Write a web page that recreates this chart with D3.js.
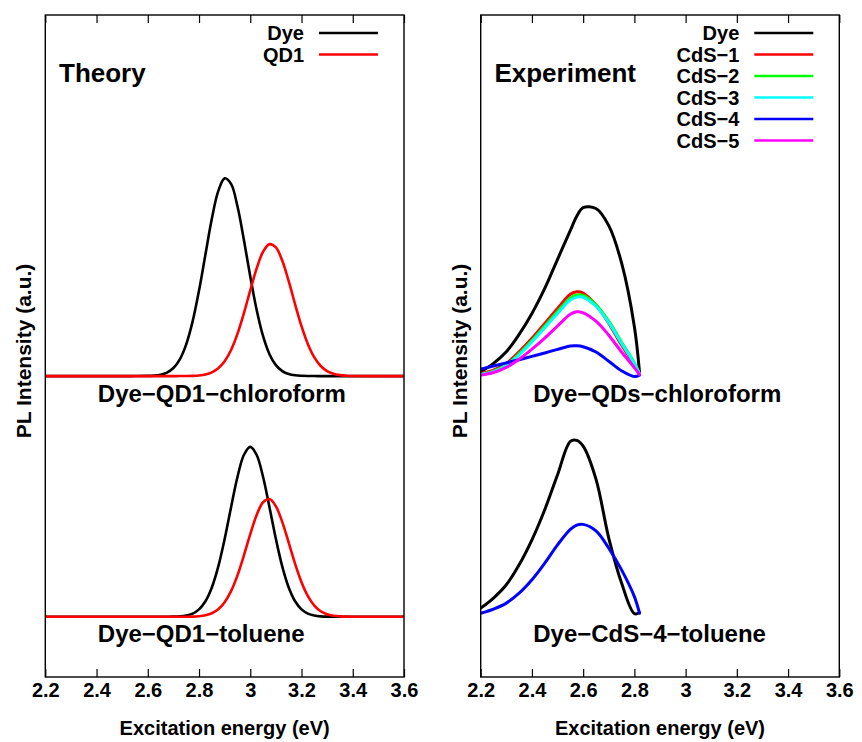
<!DOCTYPE html>
<html>
<head>
<meta charset="utf-8">
<script src="https://cdn.jsdelivr.net/npm/d3@7"></script>
<style>
  body { margin: 0; background: #fff; }
  text { font-family: "Liberation Sans", Arial, Helvetica, sans-serif; font-weight: bold; fill: #000; }
</style>
</head>
<body>
<svg id="chart" width="862" height="742"></svg>
<script>
// ---- data -------------------------------------------------------------
const xTicks = [2.2, 2.4, 2.6, 2.8, 3.0, 3.2, 3.4, 3.6];

// Theory: computed emission profiles (eV, a.u.)
const energyTheory = [2.20, 2.30, 2.40, 2.50, 2.55, 2.60,
  2.625, 2.65, 2.675, 2.70, 2.725, 2.75, 2.775, 2.80, 2.825, 2.85, 2.875, 2.90,
  2.925, 2.95, 2.975, 3.00, 3.025, 3.05, 3.075, 3.10, 3.125, 3.15, 3.175, 3.20,
  3.225, 3.25, 3.275, 3.30, 3.325, 3.35, 3.375, 3.40, 3.50, 3.60];

const theoryChloroformDye = [0, 0, 0, 0, 0.0001, 0.0007,
  0.0021, 0.0058, 0.0146, 0.0334, 0.0697, 0.1319, 0.2271, 0.3553, 0.5053, 0.6535, 0.7684, 0.8214,
  0.7983, 0.7053, 0.5666, 0.4137, 0.2746, 0.1658, 0.0910, 0.0454, 0.0206, 0.0085, 0.0032, 0.0011,
  0.0003, 0.0001, 0, 0, 0, 0, 0, 0, 0, 0];

const theoryChloroformQD1 = [0, 0, 0, 0, 0, 0,
  0, 0, 0, 0, 0.0001, 0.0004, 0.0010, 0.0027, 0.0068, 0.0154, 0.0321, 0.0614,
  0.1082, 0.1751, 0.2606, 0.3562, 0.4475, 0.5166, 0.5481, 0.5343, 0.4788, 0.3942, 0.2983, 0.2074,
  0.1325, 0.0778, 0.0420, 0.0208, 0.0095, 0.0040, 0.0015, 0.0005, 0, 0];

const theoryTolueneDye = [0, 0, 0, 0, 0, 0,
  0, 0, 0.0002, 0.0006, 0.0019, 0.0054, 0.0135, 0.0310, 0.0645, 0.1217, 0.2083, 0.3232,
  0.4550, 0.5808, 0.6723, 0.7060, 0.6723, 0.5808, 0.4550, 0.3232, 0.2083, 0.1217, 0.0645, 0.0310,
  0.0135, 0.0054, 0.0019, 0.0006, 0.0002, 0, 0, 0, 0, 0];

const theoryTolueneQD1 = [0, 0, 0, 0, 0, 0,
  0, 0, 0, 0, 0.0001, 0.0003, 0.0009, 0.0025, 0.0063, 0.0146, 0.0310, 0.0601,
  0.1065, 0.1723, 0.2545, 0.3433, 0.4230, 0.4760, 0.4891, 0.4590, 0.3934, 0.3080, 0.2202, 0.1437,
  0.0857, 0.0466, 0.0232, 0.0105, 0.0044, 0.0017, 0.0006, 0.0002, 0, 0];

// Experiment: measured PL spectra (eV, a.u.)
const energyExp = [2.20, 2.25, 2.30, 2.35, 2.40, 2.45, 2.50, 2.55, 2.575, 2.60, 2.65, 2.70, 2.75, 2.80, 2.82];

const expChloroformDye  = [0.018, 0.053, 0.101, 0.173, 0.260, 0.364, 0.485, 0.605, 0.664, 0.700, 0.696, 0.625, 0.470, 0.205, 0.015];
const expChloroformCdS1 = [0.011, 0.025, 0.053, 0.101, 0.157, 0.219, 0.281, 0.340, 0.350, 0.345, 0.295, 0.219, 0.129, 0.046, 0.008];
const expChloroformCdS2 = [0.008, 0.020, 0.047, 0.093, 0.148, 0.208, 0.268, 0.325, 0.337, 0.335, 0.296, 0.228, 0.140, 0.055, 0.008];
const expChloroformCdS3 = [0.006, 0.018, 0.044, 0.088, 0.142, 0.201, 0.260, 0.316, 0.328, 0.327, 0.290, 0.222, 0.136, 0.052, 0.008];
const expChloroformCdS4 = [0.029, 0.042, 0.055, 0.068, 0.082, 0.096, 0.111, 0.125, 0.126, 0.122, 0.100, 0.062, 0.022, -0.002, 0.004];
const expChloroformCdS5 = [0.004, 0.015, 0.036, 0.070, 0.112, 0.158, 0.208, 0.257, 0.267, 0.263, 0.228, 0.170, 0.100, 0.035, 0.006];

const expTolueneDye  = [0.036, 0.078, 0.133, 0.216, 0.320, 0.445, 0.590, 0.729, 0.733, 0.709, 0.572, 0.327, 0.140, 0.013, 0.018];
const expTolueneCdS4 = [0.015, 0.032, 0.057, 0.098, 0.154, 0.223, 0.299, 0.363, 0.381, 0.384, 0.357, 0.285, 0.195, 0.084, 0.015];

// vertical stacking of the two solvent groups
const chloroformOffset = 1;
const tolueneOffset = 0;

const colors = { Dye: "#000000", QD1: "#ff0000", "CdS\u22121": "#ff0000", "CdS\u22122": "#00ff00",
  "CdS\u22123": "#00ffff", "CdS\u22124": "#0000ff", "CdS\u22125": "#ff00ff" };

const panels = [
  {
    left: 45.3, right: 404, title: "Theory", lineWidth: 2.6,
    legend: ["Dye", "QD1"],
    labels: ["Dye\u2212QD1\u2212chloroform", "Dye\u2212QD1\u2212toluene"],
    series: [
      { name: "Dye", x: energyTheory, y: theoryChloroformDye, offset: chloroformOffset },
      { name: "QD1", x: energyTheory, y: theoryChloroformQD1, offset: chloroformOffset },
      { name: "Dye", x: energyTheory, y: theoryTolueneDye, offset: tolueneOffset },
      { name: "QD1", x: energyTheory, y: theoryTolueneQD1, offset: tolueneOffset }
    ]
  },
  {
    left: 480.7, right: 839.3, title: "Experiment", lineWidth: 3,
    legend: ["Dye", "CdS\u22121", "CdS\u22122", "CdS\u22123", "CdS\u22124", "CdS\u22125"],
    labels: ["Dye\u2212QDs\u2212chloroform", "Dye\u2212CdS\u22124\u2212toluene"],
    series: [
      { name: "Dye", x: energyExp, y: expChloroformDye, offset: chloroformOffset },
      { name: "CdS\u22121", x: energyExp, y: expChloroformCdS1, offset: chloroformOffset },
      { name: "CdS\u22122", x: energyExp, y: expChloroformCdS2, offset: chloroformOffset },
      { name: "CdS\u22123", x: energyExp, y: expChloroformCdS3, offset: chloroformOffset },
      { name: "CdS\u22124", x: energyExp, y: expChloroformCdS4, offset: chloroformOffset },
      { name: "CdS\u22125", x: energyExp, y: expChloroformCdS5, offset: chloroformOffset },
      { name: "Dye", x: energyExp, y: expTolueneDye, offset: tolueneOffset },
      { name: "CdS\u22124", x: energyExp, y: expTolueneCdS4, offset: tolueneOffset }
    ]
  }
];

// ---- drawing ----------------------------------------------------------
const svg = d3.select("#chart");
const plotTop = 15, plotBottom = 677;
const y = d3.scaleLinear().domain([-0.25, 2.5]).range([plotBottom, plotTop]);
const fmt = d3.format("~g");

panels.forEach((p, pi) => {
  const x = d3.scaleLinear().domain([2.2, 3.6]).range([p.left, p.right]);
  const g = svg.append("g");

  const clipId = "clip" + pi;
  svg.append("clipPath").attr("id", clipId).append("rect")
    .attr("x", p.left).attr("y", plotTop)
    .attr("width", p.right - p.left).attr("height", plotBottom - plotTop);

  const line = d3.line()
    .x(d => x(d[0]))
    .y(d => y(d[1]))
    .curve(d3.curveCatmullRom.alpha(0.5));

  const curves = g.append("g").attr("clip-path", `url(#${clipId})`);
  p.series.forEach(s => {
    const pts = s.x.map((e, i) => [e, s.y[i] + s.offset]);
    curves.append("path")
      .attr("d", line(pts))
      .attr("fill", "none")
      .attr("stroke", colors[s.name])
      .attr("stroke-width", p.lineWidth)
      .attr("stroke-linejoin", "round")
      .attr("stroke-linecap", "round");
  });

  // axes (ticks pointing inwards on bottom and top)
  const bottomAxis = d3.axisBottom(x).tickValues(xTicks).tickFormat(fmt)
    .tickSizeInner(-8).tickSizeOuter(0).tickPadding(6);
  const ab = g.append("g").attr("transform", `translate(0,${plotBottom})`).call(bottomAxis);
  ab.select(".domain").remove();
  ab.selectAll("line").attr("stroke", "#000").attr("stroke-width", 1.2);
  ab.selectAll("text").attr("font-size", 20).style("font-family", "'Liberation Sans', Arial, sans-serif").attr("font-weight", "bold");

  const topAxis = d3.axisTop(x).tickValues(xTicks).tickFormat("")
    .tickSizeInner(-8).tickSizeOuter(0);
  const at = g.append("g").attr("transform", `translate(0,${plotTop})`).call(topAxis);
  at.select(".domain").remove();
  at.selectAll("line").attr("stroke", "#000").attr("stroke-width", 1.2);

  // frame
  g.append("rect")
    .attr("x", p.left).attr("y", plotTop)
    .attr("width", p.right - p.left).attr("height", plotBottom - plotTop)
    .attr("fill", "none").attr("stroke", "#000").attr("stroke-width", 1.4);

  // axis titles
  g.append("text")
    .attr("x", (p.left + p.right) / 2).attr("y", 735)
    .attr("text-anchor", "middle").attr("font-size", 20)
    .text("Excitation energy (eV)");
  g.append("text")
    .attr("transform", `translate(${p.left - 21.5},351) rotate(-90)`)
    .attr("text-anchor", "middle").attr("dy", "0.35em").attr("font-size", 21)
    .text("PL Intensity (a.u.)");

  // panel title
  g.append("text")
    .attr("x", p.left + 13.7).attr("y", 82)
    .attr("font-size", 26)
    .text(p.title);

  // legend
  p.legend.forEach((name, i) => {
    const ly = 33 + i * 21.5;
    g.append("text")
      .attr("x", p.right - 100).attr("y", ly).attr("dy", "0.36em")
      .attr("text-anchor", "end").attr("font-size", 20)
      .text(name);
    g.append("line")
      .attr("x1", p.right - 85).attr("x2", p.right - 26)
      .attr("y1", ly).attr("y2", ly)
      .attr("stroke", colors[name]).attr("stroke-width", 2.5);
  });

  // solvent labels
  g.append("text")
    .attr("x", x(2.405)).attr("y", 402)
    .attr("font-size", 24)
    .text(p.labels[0]);
  g.append("text")
    .attr("x", x(2.405)).attr("y", 642)
    .attr("font-size", 24)
    .text(p.labels[1]);
});
</script>
</body>
</html>
